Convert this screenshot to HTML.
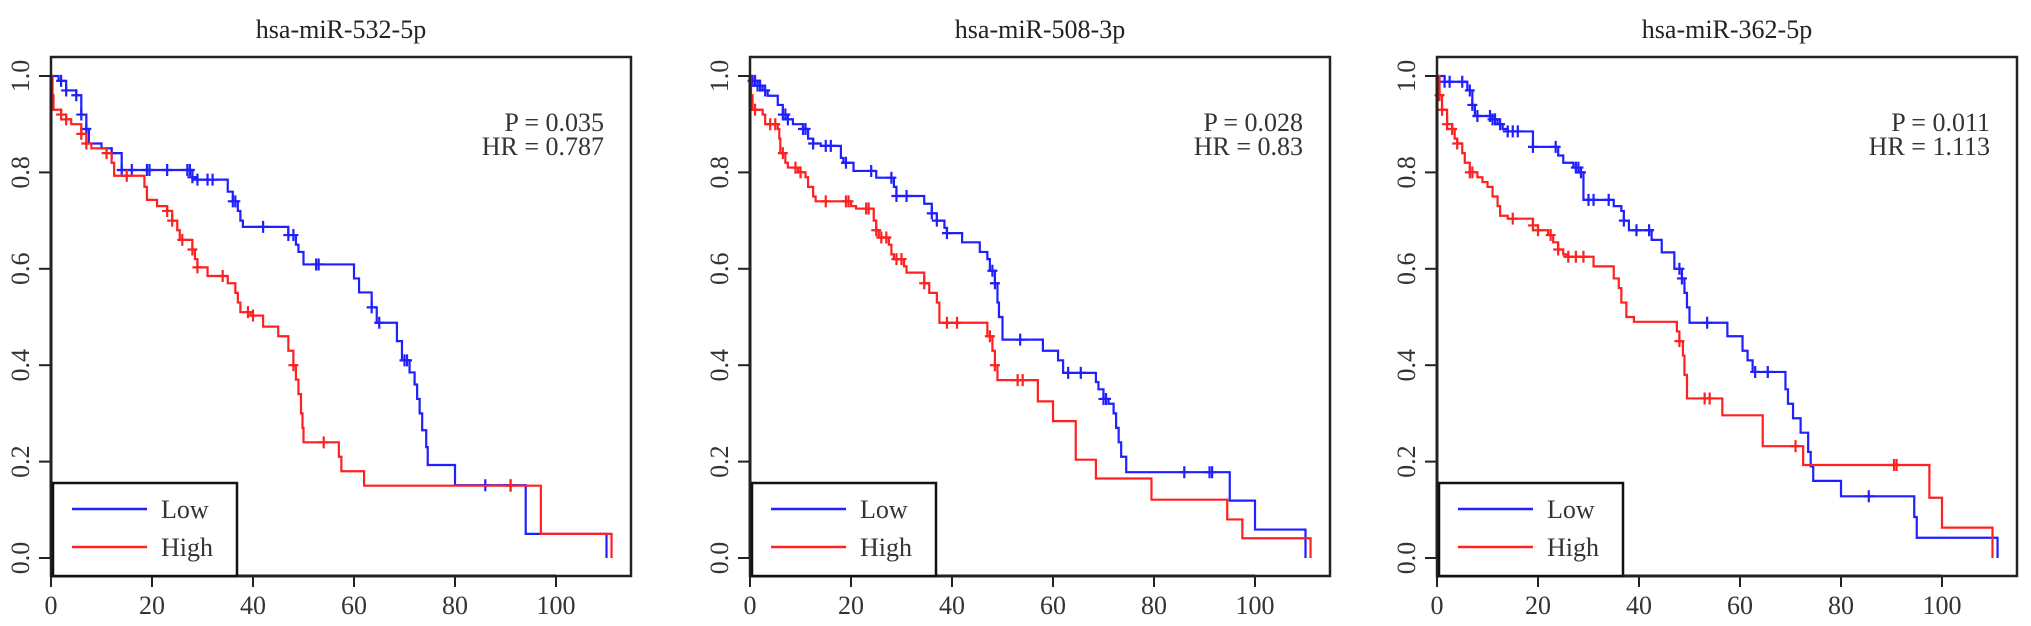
<!DOCTYPE html>
<html><head><meta charset="utf-8"><style>
html,body{margin:0;padding:0;background:#fff;}
svg{display:block;font-family:"Liberation Serif",serif;}
</style></head><body>
<svg id="chart" width="2031" height="626" viewBox="0 0 2031 626" xmlns="http://www.w3.org/2000/svg"></svg>
<script>
// ---- data (months, survival probability) ----
const titles = ["hsa-miR-532-5p","hsa-miR-508-3p","hsa-miR-362-5p"];
const pLabels = ["P = 0.035","P = 0.028","P = 0.011"];
const hrLabels = ["HR = 0.787","HR = 0.83","HR = 1.113"];
const xTicks = [0,20,40,60,80,100];
const yTicks = [0,0.2,0.4,0.6,0.8,1.0];
const yTickLabels = ["0.0","0.2","0.4","0.6","0.8","1.0"];

const low1T = [0,1.5,3,5,6,7,7.5,10,12,14,28,29,35,36,37,37.5,38,47,48.5,49,50,60,61,63.5,64.5,68.5,69.5,71,72,72.5,73,73.5,74.3,74.6,80,94,110];
const low1S = [1,0.99,0.97,0.96,0.92,0.89,0.86,0.85,0.84,0.805,0.79,0.785,0.76,0.74,0.72,0.70,0.687,0.67,0.65,0.635,0.609,0.58,0.551,0.52,0.488,0.45,0.41,0.385,0.36,0.33,0.30,0.265,0.23,0.193,0.151,0.05,0];
const low1C = [2,3,5,6,7,12,14,16,19,19.5,23,27,27.5,28,29,31,32,36,36.5,42,47,48,52.5,53,63.5,65,70,70.5,86,91];
const high1T = [0,0.3,0.5,2,3,4,6,7,8,11,12,12.5,18.5,19,21,23,24,25,25.5,28,28.5,29,31,35,36.5,37,37.5,39.5,42,45,47,48,48.5,49,49.5,49.8,50,57,57.5,62,97,111];
const high1S = [1,0.96,0.93,0.92,0.91,0.90,0.88,0.86,0.85,0.84,0.82,0.793,0.77,0.743,0.73,0.72,0.70,0.68,0.66,0.64,0.62,0.603,0.585,0.57,0.55,0.53,0.51,0.503,0.48,0.46,0.43,0.40,0.37,0.34,0.30,0.27,0.24,0.21,0.18,0.15,0.05,0];
const high1C = [2,3,6,7,11,15,23,24,26,28,29,34,39,40,48,54,91];

const low2T = [0,0.5,1.5,2.5,3.5,5.5,6.5,7.5,8.5,10.5,11.5,12.5,14,18,18.5,20.5,25,28.5,29,34.5,36,37,38.5,39,42,45.5,47,47.5,48.5,49,49.3,50,58,61,62,68.5,69,70,71,72,72.5,73,73.5,74.5,95,100,110];
const low2S = [1,0.99,0.98,0.97,0.959,0.94,0.92,0.91,0.90,0.89,0.87,0.86,0.855,0.83,0.82,0.803,0.789,0.77,0.751,0.735,0.715,0.70,0.685,0.674,0.655,0.635,0.62,0.596,0.57,0.53,0.50,0.453,0.43,0.41,0.384,0.365,0.35,0.33,0.32,0.30,0.27,0.24,0.21,0.178,0.119,0.059,0];
const low2C = [0.5,1,1.5,2,3,6.5,7,7.5,10.5,11,12.5,15,16,19,24,28,29,31,36,37,39,48,48.5,53.5,63,65.5,70,70.5,86,91,91.5];
const high2T = [0,0.2,0.5,2.5,3,5.5,5.8,6,7,7.5,9.5,11,11.5,12.5,13,20,21,24.5,25,25.5,27.5,28,28.5,30.5,31,34.5,35.5,37,37.5,47,48,48.5,49,57,60,64.5,68.5,79.5,94.5,97.5,111];
const high2S = [1,0.96,0.93,0.92,0.90,0.89,0.87,0.84,0.82,0.81,0.80,0.79,0.77,0.75,0.74,0.73,0.725,0.70,0.68,0.665,0.65,0.63,0.62,0.605,0.592,0.57,0.55,0.53,0.488,0.46,0.43,0.40,0.369,0.325,0.284,0.204,0.165,0.121,0.08,0.041,0];
const high2C = [1,4,5,6.5,9,10,15,19,19.5,23,23.5,25,26,27,29,30,34.5,39,41,47.5,48.5,53,54];

const low3T = [0,1.5,6,7,7.5,11,12,13,14,19,24,25,27,28.5,29,35,36.5,37,38,42.5,44.5,47,48.5,49,49.5,50,57.5,60.5,61.5,62.5,69,69.5,70.5,72,73.5,74,74.5,80,94.5,95,111];
const low3S = [1,0.988,0.97,0.94,0.917,0.91,0.90,0.89,0.885,0.853,0.835,0.82,0.81,0.80,0.743,0.73,0.72,0.70,0.68,0.66,0.634,0.60,0.58,0.55,0.52,0.488,0.46,0.43,0.41,0.386,0.35,0.32,0.29,0.26,0.22,0.19,0.16,0.128,0.085,0.042,0];
const low3C = [1.5,2.5,5,6.5,7,8,10.5,11,11.5,12.5,14,15,16,19,23.5,27.5,28,28.5,30,31,34,37,39.5,42,48,48.5,53.5,63,65.5,85.5];
const high3T = [0,0.5,1,2,3,3.5,4,5,5.5,6.5,8,9,10,11,12,12.5,14,19,20,22,23,24,25,26,31,35,36,36.5,37.5,39,47.5,48,48.7,49,49.5,56.5,64.5,72.5,97.5,100,110];
const high3S = [1,0.96,0.93,0.90,0.89,0.87,0.86,0.84,0.82,0.80,0.79,0.78,0.77,0.75,0.73,0.71,0.704,0.69,0.68,0.67,0.655,0.64,0.63,0.625,0.605,0.58,0.56,0.53,0.50,0.49,0.47,0.45,0.42,0.38,0.331,0.296,0.232,0.193,0.125,0.063,0];
const high3C = [0.5,1,2,3,4,6.5,7,15,19,20,22.5,24,26,27.5,29,48,53,54,71,90.5,91];

const lowTimes = [low1T,low2T,low3T], lowSurv = [low1S,low2S,low3S], lowCens = [low1C,low2C,low3C];
const highTimes = [high1T,high2T,high3T], highSurv = [high1S,high2S,high3S], highCens = [high1C,high2C,high3C];

const NS = "http://www.w3.org/2000/svg";
const svg = document.getElementById("chart");
const panelLeft = [51, 750, 1437];
const PW = 580, TOP = 57, BOT = 576;
function mk(tag, attrs, parent){const e=document.createElementNS(NS,tag);for(const k in attrs)e.setAttribute(k,attrs[k]);parent.appendChild(e);return e;}
function survAt(T,S,t){let v=S[0];for(let i=0;i<T.length;i++){if(T[i]<=t)v=S[i];else break;}return v;}

for(let p=0;p<3;p++){
  const L = panelLeft[p];
  const xs = v => L + v*5.05;
  const ys = v => 558 - v*482;
  const g = mk("g",{},svg);
  
  

  const title = mk("text",{x:L+PW/2,y:38,"text-anchor":"middle","font-size":"26",fill:"#222"},g);
  title.textContent = titles[p];
  
  

  // curves
  const series = [[lowTimes[p],lowSurv[p],lowCens[p],"#1f1fff","low-curve"],[highTimes[p],highSurv[p],highCens[p],"#ff2020","high-curve"]];
  for(const [T,S,C,col,nm] of series){
    let d = "M"+xs(T[0])+","+ys(S[0]);
    for(let i=1;i<T.length;i++){ d += " H"+xs(T[i])+" V"+ys(S[i]); }
    const path = mk("path",{d:d,fill:"none",stroke:col,"stroke-width":"2.2"},g);
    
    
    for(const c of C){
      const cx=xs(c), cy=ys(survAt(T,S,c));
      const m = mk("path",{d:`M${cx},${cy-6} V${cy+6} M${cx-5},${cy} H${cx+5}`,stroke:col,"stroke-width":"2.2"},g);
      
      
    }
  }

  // frame
  const frame = mk("rect",{x:L,y:TOP,width:PW,height:BOT-TOP,fill:"none",stroke:"#222","stroke-width":"2.5"},g);
  
  

  // y axis
  const yax = mk("g",{},g);
  
  
  mk("line",{x1:L,y1:ys(0),x2:L,y2:ys(1),stroke:"#222","stroke-width":"3"},yax);
  yTicks.forEach((v,i)=>{
    mk("line",{x1:L-12,y1:ys(v),x2:L,y2:ys(v),stroke:"#222","stroke-width":"2"},yax);
    const t = mk("text",{x:0,y:0,"text-anchor":"middle","font-size":"26",fill:"#333",transform:`translate(${L-22},${ys(v)}) rotate(-90)`},yax);
    t.textContent = yTickLabels[i];
    
    
  });
  // x axis
  const xax = mk("g",{},g);
  
  
  mk("line",{x1:xs(0),y1:BOT,x2:xs(100),y2:BOT,stroke:"#222","stroke-width":"3"},xax);
  xTicks.forEach(v=>{
    mk("line",{x1:xs(v),y1:BOT,x2:xs(v),y2:BOT+11,stroke:"#222","stroke-width":"2"},xax);
    const t = mk("text",{x:xs(v),y:614,"text-anchor":"middle","font-size":"26",fill:"#333"},xax);
    t.textContent = String(v);
    
    
  });

  // stats
  const pt = mk("text",{x:L+PW-27,y:131,"text-anchor":"end","font-size":"26",fill:"#333"},g);
  pt.textContent = pLabels[p];
  
  
  const hr = mk("text",{x:L+PW-27,y:155,"text-anchor":"end","font-size":"26",fill:"#333"},g);
  hr.textContent = hrLabels[p];
  
  

  // legend
  const lg = mk("g",{},g);
  
  
  mk("rect",{x:L+2,y:483,width:184,height:93,fill:"#fff",stroke:"#111","stroke-width":"2.5"},lg);
  mk("line",{x1:L+21,y1:509,x2:L+96,y2:509,stroke:"#1f1fff","stroke-width":"2.5"},lg);
  mk("line",{x1:L+21,y1:547,x2:L+96,y2:547,stroke:"#ff2020","stroke-width":"2.5"},lg);
  const l1 = mk("text",{x:L+110,y:518,"font-size":"26",fill:"#333"},lg);
  l1.textContent = "Low";
  
  
  const l2 = mk("text",{x:L+110,y:556,"font-size":"26",fill:"#333"},lg);
  l2.textContent = "High";
  
  
}
</script>
</body></html>
